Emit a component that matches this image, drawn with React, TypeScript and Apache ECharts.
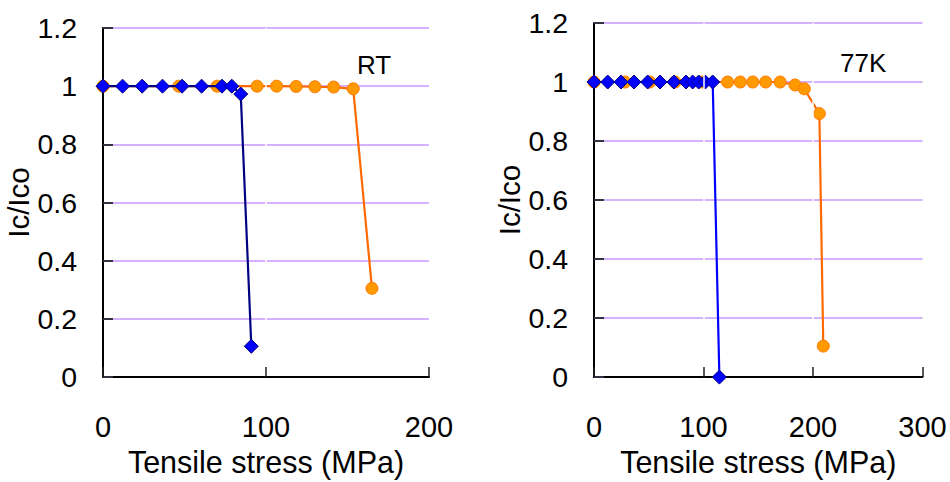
import React, { useEffect, useRef } from "react";
import * as echarts from "echarts";

// RT panel
const rtOrangeX = [0, 46.5, 70, 94.5, 106.5, 118.5, 130, 141.5, 153.5, 165];
const rtOrangeY = [1, 1, 1, 1, 1.0, 0.999, 0.998, 0.997, 0.991, 0.305];
const rtBlueX = [0, 12, 24, 36.5, 48.5, 60.5, 73, 79, 84.5, 91];
const rtBlueY = [1, 1, 1, 1, 1, 1, 1, 1, 0.973, 0.106];

// 77K panel
const k77OrangeX = [0, 28.3, 51, 74, 98.4, 122, 133.6, 145, 156.8, 170, 183.6, 192, 205.8, 209.4];
const k77OrangeY = [1, 1, 1, 1, 1, 1, 1, 1, 1, 1, 0.99, 0.977, 0.893, 0.105];
const k77BlueX = [0, 12.5, 24.7, 36.5, 49, 60.3, 73, 84, 90.1, 95.6, 101.6, 108.4, 114.5];
const k77BlueY = [1, 1, 1, 1, 1, 1, 1, 1, 1, 1, 1, 1, 0];

const yTicks = { min: 0, max: 1.2, interval: 0.2 };
const leftX = { min: 0, max: 200, interval: 100 };
const rightX = { min: 0, max: 300, interval: 100 };
const leftGaps = [100];
const rightGaps = [100, 200];
const panelLabels = ["RT", "77K"];
const xName = "Tensile stress (MPa)";
const yName = "Ic/Ico";

const FONT = "'Liberation Sans', Arial, sans-serif";

function zip(xs: number[], ys: number[]) {
  return xs.map((x, i) => [x, ys[i]]);
}

export default function App() {
  const ref = useRef<HTMLDivElement>(null);
  useEffect(() => {
    if (!ref.current) return;
    const chart = echarts.init(ref.current, undefined, { renderer: "svg" });

    const mkX = (idx: number, r: { min: number; max: number; interval: number }) => ({
      type: "value",
      gridIndex: idx,
      min: r.min,
      max: r.max,
      interval: r.interval,
      name: xName,
      nameLocation: "middle",
      nameGap: 63,
      nameTextStyle: { fontFamily: FONT, fontSize: 30.5, color: "#000" },
      axisLine: { show: true, lineStyle: { color: "#000", width: 2 } },
      axisTick: { show: true, inside: true, length: 10, lineStyle: { color: "#222", width: 1.5 } },
      axisLabel: { fontFamily: FONT, fontSize: 29, color: "#000", margin: 35 },
      splitLine: { show: false },
    });
    const mkY = (idx: number) => ({
      type: "value",
      gridIndex: idx,
      min: yTicks.min,
      max: yTicks.max,
      interval: yTicks.interval,
      name: yName,
      nameLocation: "middle",
      nameGap: 68,
      nameTextStyle: { fontFamily: FONT, fontSize: 29.5, color: "#000" },
      axisLine: { show: true, lineStyle: { color: "#000", width: 2 } },
      axisTick: { show: true, inside: true, length: 10, lineStyle: { color: "#333344", width: 2 } },
      axisLabel: { fontFamily: FONT, fontSize: 28.5, color: "#000", margin: 26 },
      splitLine: { show: true, lineStyle: { color: "#d4b2ff", width: 2 } },
    });

    const orangeStyle = {
      type: "line",
      symbol: "circle",
      symbolSize: 12,
      lineStyle: { color: "#ff6a00", width: 2.2 },
      itemStyle: { color: "#ff9900", borderColor: "#ff7a00", borderWidth: 1 },
      z: 3,
    };
    const blueStyle = (lineColor: string) => ({
      type: "line",
      symbol: "diamond",
      symbolSize: 14,
      lineStyle: { color: lineColor, width: 2.2 },
      itemStyle: { color: "#0000ff", borderColor: "#000080", borderWidth: 1 },
      z: 4,
    });
    const gapSeries = (idx: number, gaps: number[]) => ({
      type: "line",
      xAxisIndex: idx,
      yAxisIndex: idx,
      data: [],
      z: 1,
      silent: true,
      markLine: {
        silent: true,
        symbol: "none",
        animation: false,
        label: { show: false },
        lineStyle: { color: "#ffffff", width: 1.5, type: "solid" },
        data: gaps.map((g) => [{ coord: [g, 0.04] }, { coord: [g, yTicks.max] }]),
      },
    });

    chart.setOption({
      animation: false,
      backgroundColor: "#fff",
      grid: [
        { left: 103, top: 28, width: 326, height: 359, containLabel: false },
        { left: 594, top: 23, width: 328.5, height: 363, containLabel: false },
      ],
      xAxis: [mkX(0, leftX), mkX(1, rightX)],
      yAxis: [mkY(0), mkY(1)],
      graphic: [
        {
          type: "text",
          left: 357,
          top: 52,
          style: { text: panelLabels[0], fontFamily: FONT, fontSize: 26, fill: "#000" },
        },
        {
          type: "text",
          left: 840,
          top: 50,
          style: { text: panelLabels[1], fontFamily: FONT, fontSize: 26, fill: "#000" },
        },
      ],
      series: [
        gapSeries(0, leftGaps),
        gapSeries(1, rightGaps),
        { ...orangeStyle, xAxisIndex: 0, yAxisIndex: 0, data: zip(rtOrangeX, rtOrangeY) },
        { ...blueStyle("#000080"), xAxisIndex: 0, yAxisIndex: 0, data: zip(rtBlueX, rtBlueY) },
        { ...orangeStyle, xAxisIndex: 1, yAxisIndex: 1, data: zip(k77OrangeX, k77OrangeY) },
        { ...blueStyle("#0000ff"), xAxisIndex: 1, yAxisIndex: 1, data: zip(k77BlueX, k77BlueY) },
      ],
    });
    return () => chart.dispose();
  }, []);
  return (
    <div
      ref={ref}
      style={{ position: "fixed", left: 0, top: 0, width: 950, height: 482, background: "#fff" }}
    />
  );
}
